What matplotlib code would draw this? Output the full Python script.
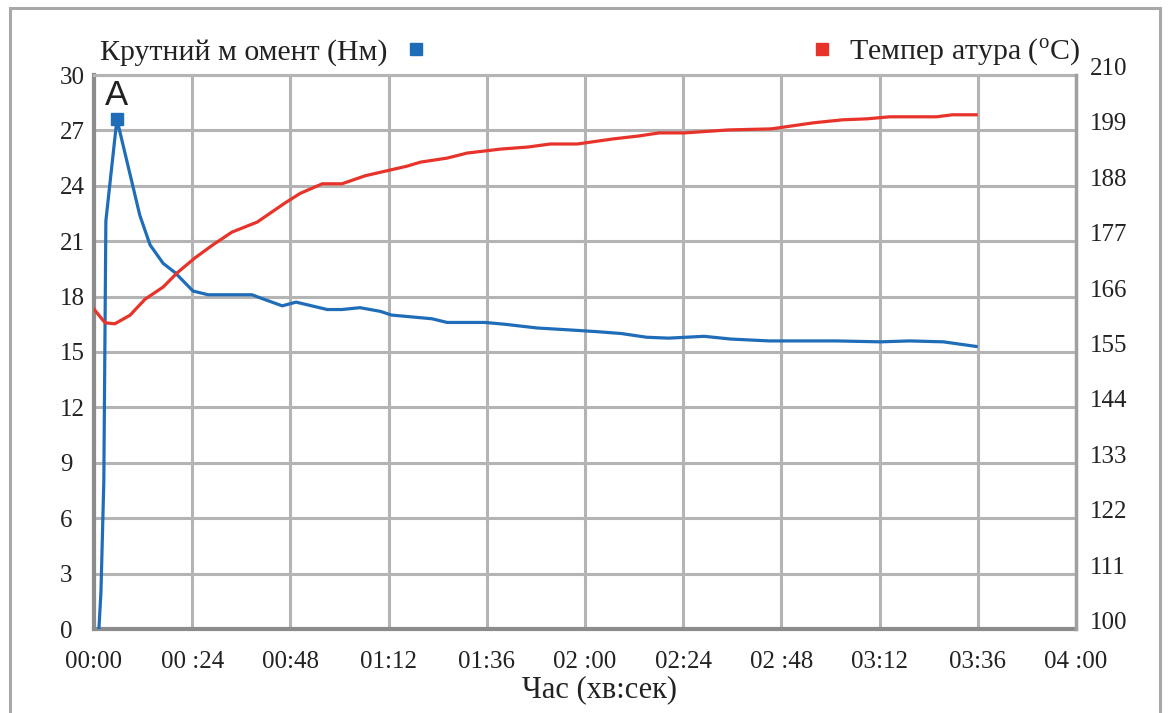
import numpy as np
import matplotlib.pyplot as plt
from matplotlib.lines import Line2D
from matplotlib.patches import Rectangle

# torque (Nm) vs time (s)
torque_t = [1.2, 1.7, 2.4, 2.9, 5.6, 11.2, 13.7, 16.9, 19.8, 24.2, 27.9, 38.6, 41.0,
            46.0, 49.4, 57.0, 60.6, 65.0, 70.0, 72.7, 82.6, 86.3, 95.6, 100.5, 108.3,
            115.9, 123.0, 128.9, 135.0, 140.4, 149.1, 155.7, 165.0, 181.4, 192.2,
            199.3, 207.6, 215.6]
torque = [0.0, 2.0, 8.0, 22.1, 27.6, 22.4, 20.8, 19.8, 19.3, 18.3, 18.1, 18.1, 17.9,
          17.5, 17.7, 17.3, 17.3, 17.4, 17.2, 17.0, 16.8, 16.6, 16.6, 16.5, 16.3,
          16.2, 16.1, 16.0, 15.8, 15.75, 15.85, 15.7, 15.6, 15.6, 15.55,
          15.6, 15.55, 15.3]

# temperature (C) vs time (s)
temp_t = [0.0, 2.7, 5.1, 8.8, 12.5, 16.9, 20.3, 24.7, 29.1, 33.7, 39.9, 46.7, 50.4,
          55.8, 60.6, 66.3, 70.6, 76.5, 79.8, 86.3, 91.2, 99.5, 106.1, 111.5, 118.1,
          126.8, 133.2, 138.1, 144.3, 155.2, 165.5, 175.8, 182.9, 189.0, 194.4,
          205.9, 209.8, 215.6]
temp = [163.5, 160.8, 160.6, 162.3, 165.5, 167.9, 170.7, 173.7, 176.3, 178.8, 180.8,
        184.6, 186.5, 188.4, 188.4, 190.0, 190.8, 191.9, 192.7, 193.5, 194.5, 195.3,
        195.7, 196.3, 196.3, 197.3, 197.9, 198.5, 198.5, 199.1, 199.3, 200.5, 201.1,
        201.3, 201.7, 201.7, 202.1, 202.1]

peak_t = 5.6
peak_v = 27.6

xticks = [0, 24, 48, 72, 96, 120, 144, 168, 192, 216, 240]
xtick_labels = ["00:00", "00 :24", "00:48", "01:12", "01:36", "02 :00",
                "02:24", "02 :48", "03:12", "03:36", "04 :00"]
left_ticks = list(range(0, 31, 3))
right_ticks = list(range(100, 211, 11))

blue = "#1f6db8"
red = "#e8332a"
grid_c = "#b4b4b4"
txt_c = "#222222"

plt.rcParams['font.family'] = ['Liberation Serif', 'DejaVu Serif']
plt.rcParams['mathtext.fontset'] = 'custom'
plt.rcParams['mathtext.rm'] = 'Liberation Serif'

fig = plt.figure(figsize=(11.68, 7.13), dpi=100)
ax = fig.add_axes([94 / 1168, 1 - 629 / 713, 982 / 1168, 554 / 713])

ax.plot(torque_t, torque, color=blue, lw=2.3, zorder=3)
ax.plot([peak_t], [peak_v], marker='s', ms=9, color=blue, ls='none', zorder=4)
ax.text(peak_t, 28.4, "A", family='Liberation Sans', fontsize=25,
        ha='center', va='baseline', color=txt_c)

ax.set_xlim(0, 240)
ax.set_ylim(0, 30)
ax.set_xticks(xticks)
ax.set_xticklabels(xtick_labels)
ax.set_yticks(left_ticks)
ax.set_yticklabels([str(v) for v in left_ticks])
ax.grid(True, color=grid_c, lw=2.2)
ax.set_axisbelow(True)
ax.tick_params(axis='x', length=0, pad=16, labelsize=18, colors=txt_c)
ax.tick_params(axis='y', length=0, pad=24.5, labelsize=18, colors=txt_c)
for lab in ax.get_yticklabels():
    lab.set_horizontalalignment('left')

for s in ['left', 'bottom']:
    ax.spines[s].set_color('#8c8c8c')
    ax.spines[s].set_linewidth(3)
ax.spines['top'].set_color(grid_c)
ax.spines['top'].set_linewidth(2.2)
ax.spines['right'].set_visible(False)

ax2 = ax.twinx()
ax2.plot(temp_t, temp, color=red, lw=2.3, zorder=3)
ax2.set_ylim(100, 210)
ax2.set_yticks(right_ticks)
ax2.set_yticklabels([str(v) for v in right_ticks])
ax2.tick_params(axis='y', length=0, pad=10, labelsize=18, colors=txt_c)
for lab in ax2.get_yticklabels():
    lab.set_verticalalignment('baseline')
for s in ['left', 'bottom', 'top']:
    ax2.spines[s].set_visible(False)
ax2.spines['right'].set_color('#a0a0a0')
ax2.spines['right'].set_linewidth(2.5)

ax.set_xlabel("Час (хв:сек)", fontsize=22, color=txt_c)
ax.xaxis.set_label_coords(0.515, -0.11)
ax.xaxis.label.set_verticalalignment('center')

h1 = Line2D([], [], marker='s', ms=9, ls='none', color=blue)
h2 = Line2D([], [], marker='s', ms=9, ls='none', color=red)
leg1 = fig.legend([h1], ["Крутний м омент (Нм)"], loc='center left',
                  bbox_to_anchor=(100 / 1168, 1 - 52 / 713), frameon=False,
                  markerfirst=False, handlelength=1, handletextpad=0.45,
                  borderpad=0, borderaxespad=0, fontsize=21.5)
leg2 = fig.legend([h2], ["Темпер атура ($^{\\rm o}$C)"], loc='center right',
                  bbox_to_anchor=(1080 / 1168, 1 - 52 / 713), frameon=False,
                  markerfirst=True, handlelength=1, handletextpad=0.4,
                  borderpad=0, borderaxespad=0, fontsize=21.5)
for t in leg1.get_texts() + leg2.get_texts():
    t.set_color(txt_c)

# outer frame
fig.patches.append(Rectangle((10 / 1168, -0.05), 1150 / 1168, 1.05 - 8 / 713,
                             transform=fig.transFigure, fill=False,
                             edgecolor='#a8a8a8', lw=2.2))

fig.savefig("out.png", dpi=100)
